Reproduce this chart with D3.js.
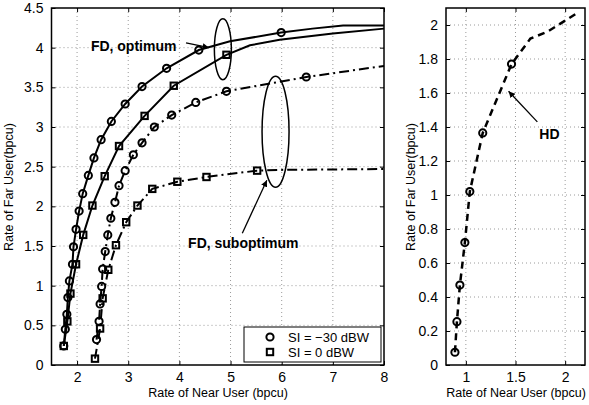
<!DOCTYPE html>
<html>
<head>
  <meta charset="utf-8">
  <title></title>
  <script src="https://cdn.jsdelivr.net/npm/d3@7"></script>
</head>
<style media="screen">
  body { margin: 0; background: white; }
  svg { font-family: "Liberation Sans", Arial, sans-serif; }
  .grid line { stroke: #9a9a9a; stroke-width: 1; stroke-dasharray: 1,3; }
  .tick text { font-size: 14px; fill: black; }
  .axlabel { font-size: 12.5px; }
  .note { font-size: 14px; font-weight: bold; }
</style>
<body>
<svg id="chart" width="589" height="405"></svg>
<script>
// FD, optimum, SI = -30 dBW (circles, solid)
var optA_x = [1.74, 1.77, 1.80, 1.82, 1.85, 1.91, 1.93, 1.98, 2.04, 2.11, 2.22, 2.33, 2.47, 2.67, 2.94, 3.27, 3.75, 4.38, 4.99, 5.99, 6.6, 7.2, 8.0]
var optA_y = [0.24, 0.45, 0.64, 0.85, 1.06, 1.27, 1.49, 1.71, 1.94, 2.16, 2.39, 2.61, 2.84, 3.07, 3.29, 3.51, 3.74, 3.97, 4.08, 4.19, 4.24, 4.28, 4.28]
var optA_mark = [1, 1, 1, 1, 1, 1, 1, 1, 1, 1, 1, 1, 1, 1, 1, 1, 1, 1, 0, 1, 0, 0, 0]

// FD, optimum, SI = 0 dBW (squares, solid)
var optB_x = [1.74, 1.81, 1.87, 1.98, 2.12, 2.30, 2.54, 2.82, 3.32, 3.89, 4.92, 5.38, 5.96, 7.0, 8.0]
var optB_y = [0.24, 0.55, 0.90, 1.27, 1.64, 2.01, 2.38, 2.76, 3.14, 3.52, 3.91, 4.03, 4.10, 4.18, 4.24]
var optB_mark = [1, 1, 1, 1, 1, 1, 1, 1, 1, 1, 1, 0, 0, 0, 0]

// FD, suboptimum, SI = -30 dBW (circles, dash-dot)
var subA_x = [2.38, 2.43, 2.45, 2.48, 2.50, 2.55, 2.60, 2.66, 2.74, 2.82, 2.94, 3.10, 3.27, 3.51, 3.85, 4.32, 4.92, 6.48, 8.0]
var subA_y = [0.32, 0.55, 0.77, 0.99, 1.21, 1.43, 1.64, 1.85, 2.05, 2.26, 2.45, 2.65, 2.80, 3.00, 3.15, 3.31, 3.45, 3.63, 3.77]
var subA_mark = [1, 1, 1, 1, 1, 1, 1, 1, 1, 1, 1, 1, 1, 1, 1, 1, 1, 1, 0]

// FD, suboptimum, SI = 0 dBW (squares, dash-dot)
var subB_x = [2.35, 2.45, 2.50, 2.61, 2.76, 2.96, 3.18, 3.47, 3.96, 4.53, 5.52, 6.03, 8.0]
var subB_y = [0.08, 0.46, 0.84, 1.20, 1.51, 1.80, 2.01, 2.22, 2.31, 2.37, 2.45, 2.46, 2.47]
var subB_mark = [1, 1, 1, 1, 1, 1, 1, 1, 1, 1, 1, 0, 0]

// HD (circles, dashed)
var hd_x = [0.89, 0.91, 0.94, 0.99, 1.04, 1.17, 1.46, 1.65, 1.82, 1.93, 2.12]
var hd_y = [0.075, 0.255, 0.47, 0.72, 1.02, 1.365, 1.77, 1.92, 1.96, 2.0, 2.07]
var hd_mark = [1, 1, 1, 1, 1, 1, 1, 0, 0, 0, 0]

var leftXTicks = [2, 3, 4, 5, 6, 7, 8]
var leftYTicks = [0, 0.5, 1, 1.5, 2, 2.5, 3, 3.5, 4, 4.5]
var rightXTicks = [1, 1.5, 2]
var rightYTicks = [0, 0.2, 0.4, 0.6, 0.8, 1, 1.2, 1.4, 1.6, 1.8, 2]

var legendItems = [{label: "SI = \u221230 dBW", shape: "circle"}, {label: "SI = 0 dBW", shape: "square"}]

var svg = d3.select("#chart")

svg.append("defs").append("marker")
  .attr("id", "arrow")
  .attr("viewBox", "0 0 10 10")
  .attr("refX", 10).attr("refY", 5)
  .attr("markerWidth", 5).attr("markerHeight", 5)
  .attr("markerUnits", "strokeWidth")
  .attr("orient", "auto")
  .append("path").attr("d", "M0,0L10,5L0,10z").attr("fill", "black")

function zip(xs, ys, ms) {
  return xs.map((x, i) => ({x: x, y: ys[i], m: ms[i]}))
}

function makePanel(x0, x1, y0, y1, xd, yd, xt, yt, fmtX, fmtY) {
  var x = d3.scaleLinear().domain(xd).range([x0, x1])
  var y = d3.scaleLinear().domain(yd).range([y1, y0])
  var g = svg.append("g")

  // grid
  var grid = g.append("g").attr("class", "grid")
  grid.selectAll(".gx").data(xt.filter(d => x(d) > x0 + 1 && x(d) < x1 - 1)).enter().append("line")
    .attr("x1", d => x(d)).attr("x2", d => x(d)).attr("y1", y0).attr("y2", y1)
  grid.selectAll(".gy").data(yt.filter(d => y(d) > y0 + 1 && y(d) < y1 - 1)).enter().append("line")
    .attr("y1", d => y(d)).attr("y2", d => y(d)).attr("x1", x0).attr("x2", x1)

  // axes, ticks inward
  g.append("g").attr("transform", "translate(0," + y1 + ")")
    .call(d3.axisBottom(x).tickValues(xt).tickFormat(fmtX).tickSizeInner(-4).tickSizeOuter(0).tickPadding(7))
  g.append("g").attr("transform", "translate(" + x0 + ",0)")
    .call(d3.axisLeft(y).tickValues(yt).tickFormat(fmtY).tickSizeInner(-4).tickSizeOuter(0).tickPadding(8))
  g.append("g").attr("transform", "translate(0," + y0 + ")")
    .call(d3.axisTop(x).tickValues(xt).tickFormat("").tickSizeInner(-4).tickSizeOuter(0))
  g.append("g").attr("transform", "translate(" + x1 + ",0)")
    .call(d3.axisRight(y).tickValues(yt).tickFormat("").tickSizeInner(-4).tickSizeOuter(0))
  g.selectAll(".domain").remove()
  g.selectAll(".tick line").attr("stroke", "black")

  g.append("rect").attr("x", x0).attr("y", y0).attr("width", x1 - x0).attr("height", y1 - y0)
    .attr("fill", "none").attr("stroke", "black").attr("stroke-width", 1.5)

  return {g: g, x: x, y: y}
}

function drawSeries(p, data, dash, shape, w) {
  var line = d3.line().x(d => p.x(d.x)).y(d => p.y(d.y))
  p.g.append("path").datum(data).attr("d", line)
    .attr("fill", "none").attr("stroke", "black").attr("stroke-width", w || 2)
    .attr("stroke-dasharray", dash)
  drawMarkers(p.g, data.filter(d => d.m).map(d => [p.x(d.x), p.y(d.y)]), shape)
}

function drawMarkers(g, pts, shape) {
  if (shape == "circle") {
    g.selectAll(null).data(pts).enter().append("circle")
      .attr("cx", d => d[0]).attr("cy", d => d[1]).attr("r", 3.6)
      .attr("fill", "none").attr("stroke", "black").attr("stroke-width", 2)
  } else {
    g.selectAll(null).data(pts).enter().append("rect")
      .attr("x", d => d[0] - 3.2).attr("y", d => d[1] - 3.2).attr("width", 6.4).attr("height", 6.4)
      .attr("fill", "none").attr("stroke", "black").attr("stroke-width", 2)
  }
}

// left panel
var L = makePanel(51.5, 384, 8, 365, [1.5, 8], [0, 4.5], leftXTicks, leftYTicks, d3.format("d"), d => String(d))
var dashDot = "10,4,2,4"
drawSeries(L, zip(optA_x, optA_y, optA_mark), null, "circle")
drawSeries(L, zip(optB_x, optB_y, optB_mark), null, "square")
drawSeries(L, zip(subA_x, subA_y, subA_mark), dashDot, "circle")
drawSeries(L, zip(subB_x, subB_y, subB_mark), dashDot, "square")

// annotations, left
L.g.append("ellipse").attr("cx", L.x(4.85)).attr("cy", L.y(3.98)).attr("rx", 8.5).attr("ry", 30.5)
  .attr("fill", "none").attr("stroke", "black").attr("stroke-width", 1.5)
L.g.append("ellipse").attr("cx", L.x(5.88)).attr("cy", L.y(2.94)).attr("rx", 13.5).attr("ry", 55.5)
  .attr("fill", "none").attr("stroke", "black").attr("stroke-width", 1.5)
L.g.append("text").attr("class", "note").attr("x", L.x(2.27)).attr("y", L.y(3.96)).text("FD, optimum")
L.g.append("line").attr("x1", L.x(4.13)).attr("y1", L.y(4.06)).attr("x2", L.x(4.58)).attr("y2", L.y(4.0))
  .attr("stroke", "black").attr("stroke-width", 1.3).attr("marker-end", "url(#arrow)")
L.g.append("text").attr("class", "note").attr("text-anchor", "middle").attr("x", L.x(5.25)).attr("y", L.y(1.48)).text("FD, suboptimum")
L.g.append("line").attr("x1", L.x(5.23)).attr("y1", L.y(1.66)).attr("x2", L.x(5.71)).attr("y2", L.y(2.33))
  .attr("stroke", "black").attr("stroke-width", 1.3).attr("marker-end", "url(#arrow)")

// legend
var lg = L.g.append("g").attr("transform", "translate(244,327)")
lg.append("rect").attr("width", 137).attr("height", 35).attr("fill", "white").attr("stroke", "black").attr("stroke-width", 1)
legendItems.forEach((it, i) => {
  drawMarkers(lg, [[26, 10 + i * 15]], it.shape)
  lg.append("text").attr("x", 44).attr("y", 15 + i * 15).attr("font-size", 13).text(it.label)
})

// axis labels, left
svg.append("text").attr("class", "axlabel").attr("text-anchor", "middle")
  .attr("x", 218).attr("y", 397).text("Rate of Near User (bpcu)")
svg.append("text").attr("class", "axlabel").attr("text-anchor", "middle")
  .attr("transform", "translate(13,187) rotate(-90)").text("Rate of Far User(bpcu)")

// right panel
var R = makePanel(446, 585, 8, 365, [0.8, 2.2], [0, 2.1], rightXTicks, rightYTicks, d => String(d), d => String(d))
drawSeries(R, zip(hd_x, hd_y, hd_mark), "7,5", "circle", 2.5)
R.g.append("text").attr("class", "note").attr("x", R.x(1.74)).attr("y", R.y(1.33)).text("HD")
R.g.append("line").attr("x1", R.x(1.72)).attr("y1", R.y(1.43)).attr("x2", R.x(1.43)).attr("y2", R.y(1.61))
  .attr("stroke", "black").attr("stroke-width", 1.3).attr("marker-end", "url(#arrow)")

svg.append("text").attr("class", "axlabel").attr("text-anchor", "middle")
  .attr("x", 516).attr("y", 397).text("Rate of Near User (bpcu)")
svg.append("text").attr("class", "axlabel").attr("text-anchor", "middle")
  .attr("transform", "translate(415,187) rotate(-90)").text("Rate of Far User(bpcu)")
</script>
</body>
</html>
